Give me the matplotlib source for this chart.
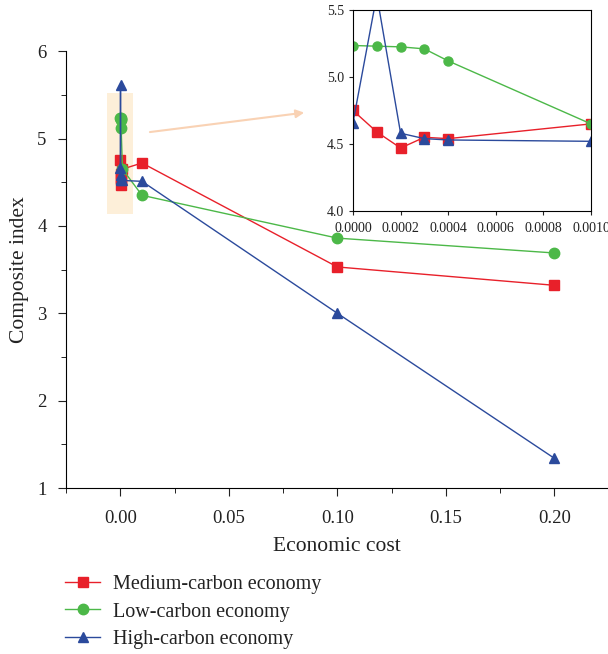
import numpy as np
import matplotlib.pyplot as plt
from matplotlib.patches import Rectangle

plt.rcParams['font.family'] = ['Liberation Serif', 'DejaVu Serif']

cost = [0, 0.0001, 0.0002, 0.0003, 0.0004, 0.001, 0.01, 0.1, 0.2]
medium = [4.75, 4.59, 4.47, 4.55, 4.54, 4.65, 4.72, 3.53, 3.32]
low = [5.235, 5.23, 5.225, 5.21, 5.12, 4.65, 4.35, 3.86, 3.69]
high = [4.66, 5.61, 4.58, 4.54, 4.53, 4.52, 4.51, 3.0, 1.34]

names = ['Medium-carbon economy', 'Low-carbon economy', 'High-carbon economy']
series = [medium, low, high]
colors = ['#e8202a', '#4cb848', '#2b4a9c']
markers = ['s', 'o', '^']

fig = plt.figure(figsize=(6.08, 6.54), dpi=100)
ax = fig.add_axes([0.1086, 0.2538, 0.8914, 0.668])

# highlighted zoom region
ax.add_patch(Rectangle((-0.006, 4.135), 0.012, 1.385, color='#fdefd9', zorder=0, lw=0))

for ys, c, m, n in zip(series, colors, markers, names):
    ax.plot(cost, ys, color=c, marker=m, markersize=7.5, lw=1, label=n)

ax.annotate('', xy=(0.086, 5.30), xytext=(0.0124, 5.07),
            arrowprops=dict(arrowstyle='-|>', color='#f9d2b4', lw=1.5, mutation_scale=12))

ax.set_xlim(-0.025, 0.2247)
ax.set_ylim(1, 6)
ax.set_xticks([0, 0.05, 0.10, 0.15, 0.20])
ax.set_xticks(np.arange(-0.025, 0.225, 0.025), minor=True)
ax.set_yticks([1, 2, 3, 4, 5, 6])
ax.set_yticks(np.arange(1, 6.01, 0.5), minor=True)
ax.xaxis.set_major_formatter(plt.FormatStrFormatter('%.2f'))
ax.spines['top'].set_visible(False)
ax.spines['right'].set_visible(False)
ax.tick_params(labelsize=13.5, color='#222222', labelcolor='#222222', length=6)
ax.tick_params(axis='x', pad=10)
ax.tick_params(axis='y', pad=8)
ax.tick_params(which='minor', length=3.5)
ax.set_xlabel('Economic cost', fontsize=15.5, color='#222222', labelpad=7)
ax.set_ylabel('Composite index', fontsize=15.5, color='#222222', labelpad=6)

fig.legend(loc='upper left', bbox_to_anchor=(0.107, 0.121), frameon=False,
           fontsize=14.5, handlelength=1.75, labelspacing=0.42, handletextpad=0.65,
           borderpad=0, borderaxespad=0, labelcolor='#222222')

# inset
axi = fig.add_axes([0.5806, 0.6774, 0.3914, 0.3073])
for ys, c, m in zip(series, colors, markers):
    axi.plot(cost, ys, color=c, marker=m, markersize=6.5, lw=1)
axi.set_xlim(0, 0.001)
axi.set_ylim(4.0, 5.5)
axi.set_xticks(np.arange(0, 0.00101, 0.0002))
axi.set_yticks([4.0, 4.5, 5.0, 5.5])
axi.xaxis.set_major_formatter(plt.FormatStrFormatter('%.4f'))
axi.yaxis.set_major_formatter(plt.FormatStrFormatter('%.1f'))
axi.tick_params(labelsize=10, length=3, color='#222222', labelcolor='#222222')
axi.tick_params(axis='x', pad=5)

fig.savefig('out.png', dpi=100)
